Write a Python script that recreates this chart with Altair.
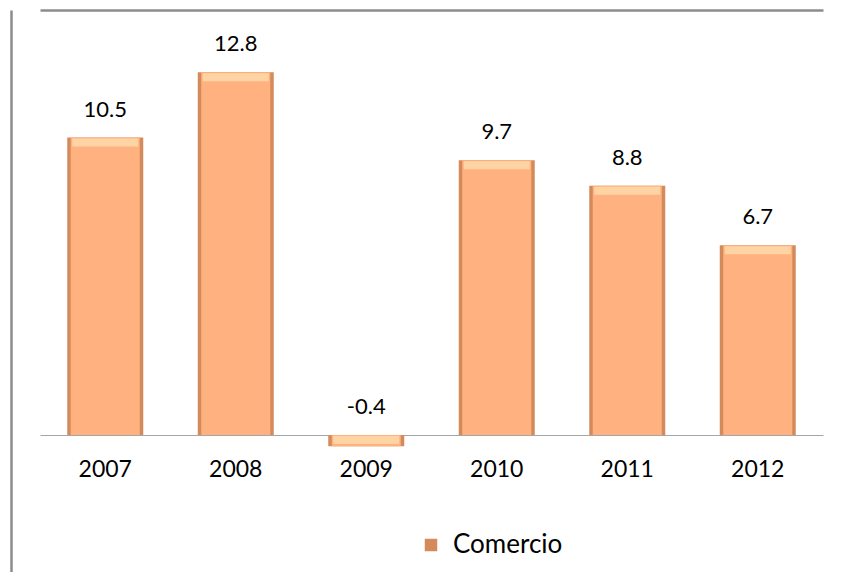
import altair as alt
import pandas as pd

years = ["2007", "2008", "2009", "2010", "2011", "2012"]
values = [10.5, 12.8, -0.4, 9.7, 8.8, 6.7]
series = ["Comercio"] * len(years)

df = pd.DataFrame({"year": years, "value": values, "series": series})
df["top"] = df["value"].clip(lower=0)
df["label"] = [f"{v:.1f}" for v in values]

FONT = "Lato"
GRAY = "#8C8C8C"
W, H = 824, 562

xs = alt.Scale(domain=years, range=[29, 812], paddingInner=0.1, paddingOuter=0.05)
x = alt.X("year:N", sort=years, scale=xs,
          axis=alt.Axis(title=None, domain=True, domainColor="#A6A6A6", domainWidth=1.2,
                        ticks=False, labelAngle=0, grid=False,
                        labelFontSize=23, labelFont=FONT, labelColor="#000000",
                        labelPadding=23, offset=-137))
y = alt.Y("value:Q", scale=alt.Scale(domain=[-4.835, 15], nice=False, zero=False),
          axis=alt.Axis(title=None, labels=False, ticks=False, values=[15],
                        domain=True, domainColor=GRAY, domainWidth=2.5,
                        grid=True, gridColor=GRAY, gridWidth=2.5))

base = alt.Chart(df)

bars = base.mark_bar(size=76).encode(
    x=x, y=y,
    color=alt.Color("series:N", scale=alt.Scale(range=["#D48B5C"]),
                    legend=alt.Legend(title=None, orient="none", legendX=407, legendY=522,
                                      symbolType="square", symbolSize=156,
                                      labelFontSize=26, labelFont=FONT, labelColor="#000000",
                                      labelOffset=9)),
)

inner = base.mark_bar(size=69, color="#FFB27F").encode(
    x=alt.X("year:N", sort=years), y="value:Q"
)

bevel = base.mark_tick(orient="horizontal", thickness=8, size=66, yOffset=5,
                       color="#FFE3B5").encode(
    x=alt.X("year:N", sort=years), y=alt.Y("top:Q")
)

labels = base.mark_text(fontSize=22, font=FONT, color="#000000", dy=-28, baseline="middle").encode(
    x=alt.X("year:N", sort=years), y=alt.Y("top:Q"), text="label:N"
)

chart = alt.layer(bars, inner, bevel, labels).properties(
    width=W, height=H,
    autosize=alt.AutoSizeParams(type="none"),
    padding={"left": 3, "top": 2, "right": 0, "bottom": 0},
    background="#FFFFFF",
).configure_view(strokeWidth=0)

chart.save("out.html", embed_options={"renderer": "svg", "actions": False})
